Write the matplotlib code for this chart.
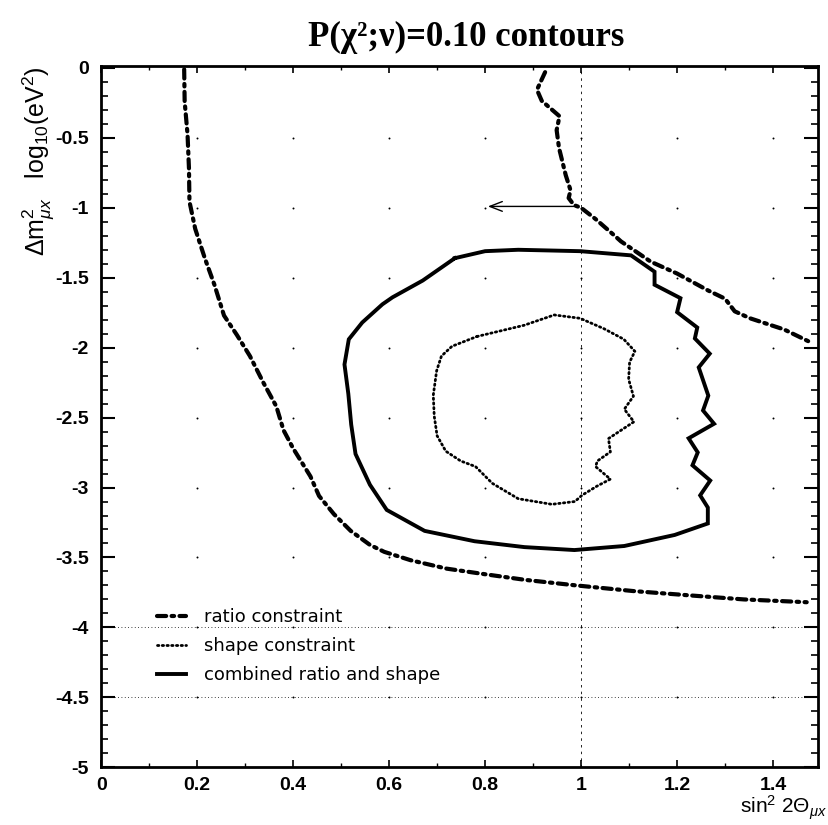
import numpy as np
import matplotlib.pyplot as plt

plt.rcParams['mathtext.fontset'] = 'custom'
plt.rcParams['mathtext.rm'] = 'Liberation Sans'
plt.rcParams['mathtext.it'] = 'Liberation Sans:italic'
plt.rcParams['mathtext.bf'] = 'Liberation Sans:bold'

# ratio constraint, left branch (sin^2 2theta, log10 dm^2)
ratio_left_x = [0.173, 0.174, 0.180, 0.183, 0.184, 0.196, 0.216, 0.236, 0.256, 0.283,
                0.310, 0.338, 0.365, 0.380, 0.400, 0.436, 0.454, 0.485, 0.520, 0.560,
                0.590, 0.645, 0.720, 0.800, 0.883, 0.990, 1.108, 1.222, 1.339, 1.470]
ratio_left_y = [-0.01, -0.24, -0.475, -0.72, -0.955, -1.15, -1.36, -1.55, -1.77, -1.91,
                -2.06, -2.25, -2.42, -2.59, -2.72, -2.92, -3.06, -3.19, -3.31, -3.41,
                -3.46, -3.52, -3.58, -3.62, -3.66, -3.70, -3.74, -3.77, -3.80, -3.82]

# ratio constraint, right branch
ratio_right_x = [0.925, 0.908, 0.918, 0.955, 0.949, 0.954, 0.968, 0.978, 0.974, 0.985,
                 1.000, 1.030, 1.070, 1.083, 1.145, 1.200, 1.264, 1.300, 1.320, 1.352,
                 1.423, 1.477]
ratio_right_y = [-0.03, -0.156, -0.235, -0.345, -0.445, -0.573, -0.767, -0.875, -0.93, -0.98,
                 -1.00, -1.08, -1.20, -1.24, -1.385, -1.47, -1.59, -1.65, -1.74, -1.79,
                 -1.87, -1.96]

# shape constraint
shape_x = [0.783, 0.881, 0.944, 0.998, 1.048, 1.089, 1.112, 1.101, 1.099, 1.109,
           1.090, 1.110, 1.079, 1.057, 1.061, 1.034, 1.030, 1.061, 1.033, 1.002,
           0.987, 0.939, 0.869, 0.815, 0.780, 0.749, 0.718, 0.700, 0.694, 0.692,
           0.699, 0.709, 0.731, 0.783]
shape_y = [-1.92, -1.84, -1.766, -1.79, -1.865, -1.94, -2.026, -2.104, -2.226, -2.347,
           -2.44, -2.53, -2.60, -2.65, -2.745, -2.81, -2.85, -2.94, -2.99, -3.055,
           -3.10, -3.12, -3.08, -2.97, -2.85, -2.81, -2.74, -2.63, -2.49, -2.34,
           -2.165, -2.06, -1.99, -1.92]

# combined ratio and shape
comb_x = [0.737, 0.800, 0.869, 0.998, 1.104, 1.153, 1.153, 1.207, 1.200, 1.242,
          1.237, 1.268, 1.245, 1.265, 1.254, 1.277, 1.224, 1.243, 1.232, 1.269,
          1.248, 1.264, 1.264, 1.195, 1.090, 0.986, 0.882, 0.778, 0.674, 0.595,
          0.560, 0.530, 0.521, 0.515, 0.507, 0.516, 0.544, 0.586, 0.607, 0.670,
          0.737]
comb_y = [-1.36, -1.31, -1.30, -1.31, -1.34, -1.457, -1.55, -1.646, -1.746, -1.856,
          -1.934, -2.043, -2.141, -2.343, -2.449, -2.544, -2.648, -2.749, -2.841, -2.95,
          -3.056, -3.143, -3.257, -3.339, -3.418, -3.447, -3.426, -3.384, -3.31, -3.16,
          -2.98, -2.76, -2.55, -2.33, -2.12, -1.94, -1.82, -1.69, -1.64, -1.52,
          -1.36]

# arrow from the ratio curve at sin^2 = 1
arrow_tail = (1.0, -0.99)
arrow_head = (0.80, -0.99)

x_ticks = [0, 0.2, 0.4, 0.6, 0.8, 1.0, 1.2, 1.4]
x_labels = ['0', '0.2', '0.4', '0.6', '0.8', '1', '1.2', '1.4']
y_ticks = [0, -0.5, -1, -1.5, -2, -2.5, -3, -3.5, -4, -4.5, -5]
y_labels = ['0', '-0.5', '-1', '-1.5', '-2', '-2.5', '-3', '-3.5', '-4', '-4.5', '-5']

fig = plt.figure(figsize=(8.29, 8.25), dpi=100)
ax = fig.add_axes([0.122, 0.070, 0.865, 0.850])

# sparse grid: dots at tick crossings plus a few dotted lines
gx, gy = np.meshgrid(x_ticks[1:], y_ticks[1:-1])
ax.scatter(gx.ravel(), gy.ravel(), s=2, color='k', lw=0, zorder=1)
ax.axvline(1.0, color='k', lw=0.6, ls=(0, (3, 5)), zorder=1)
for yl in (-4, -4.5):
    ax.axhline(yl, color='k', lw=0.6, ls=(0, (1, 3)), zorder=1)

ratio_ls = (0, (2.2, 1.3, 0.6, 1.3))
ax.plot(ratio_left_x, ratio_left_y, color='k', lw=3.0, ls=ratio_ls,
        dash_capstyle='round', label='ratio constraint')
ax.plot(ratio_right_x, ratio_right_y, color='k', lw=3.0, ls=ratio_ls,
        dash_capstyle='round')
ax.plot(shape_x, shape_y, color='k', lw=2.0, ls=(0, (0.5, 1.2)),
        dash_capstyle='round', label='shape constraint')
ax.plot(comb_x, comb_y, color='k', lw=2.8, solid_joinstyle='miter',
        label='combined ratio and shape')

ax.annotate('', xy=arrow_head, xytext=arrow_tail,
            arrowprops=dict(arrowstyle='->,head_length=0.9,head_width=0.35',
                            color='k', lw=1.0))

ax.set_xlim(0, 1.494)
ax.set_ylim(-5, 0.014)
ax.set_xticks(x_ticks)
ax.set_xticklabels(x_labels)
ax.set_xticks(np.arange(0.1, 1.5, 0.2), minor=True)
ax.set_yticks(y_ticks)
ax.set_yticklabels(y_labels)
ax.set_yticks(np.arange(-4.9, 0, 0.1), minor=True)

ax.tick_params(axis='both', which='both', direction='in', top=True, right=True)
ax.tick_params(axis='y', which='major', length=10, width=1.5, pad=9)
ax.tick_params(axis='y', which='minor', length=5, width=1.2)
ax.tick_params(axis='x', which='major', length=5, width=1.2, pad=7)
ax.tick_params(axis='x', which='minor', length=3, width=1.0)
for lab in ax.get_xticklabels() + ax.get_yticklabels():
    lab.set_family('Liberation Sans')
    lab.set_fontweight('bold')
    lab.set_fontsize(14)
for sp in ax.spines.values():
    sp.set_linewidth(2.0)

fig.text(0.562, 0.955, 'P(χ²;ν)=0.10 contours', family='Liberation Serif',
         fontweight='bold', fontsize=25, ha='center', va='center')
ax.text(-0.088, 1.0, r'$\Delta \mathrm{m}^{2}_{\mu x}$   log$_{10}$(eV$^{2}$)',
        transform=ax.transAxes, rotation=90, ha='center', va='top',
        family='Liberation Sans', fontsize=18)
ax.text(1.012, -0.058, r'sin$^{2}$ 2$\Theta_{\mu x}$', transform=ax.transAxes,
        ha='right', va='center', family='Liberation Sans', fontsize=15)

ax.legend(loc='upper left', bbox_to_anchor=(0.055, 0.25), frameon=False,
          handlelength=1.6, handletextpad=1.0, labelspacing=0.6,
          prop={'family': 'DejaVu Sans', 'size': 13})

fig.savefig('out.png', dpi=100)
